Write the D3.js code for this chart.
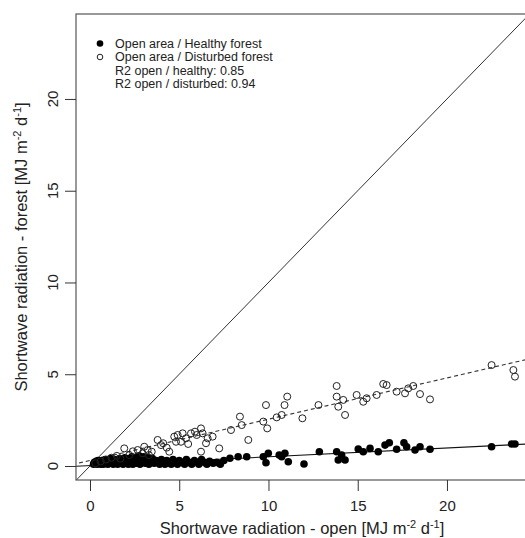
<!DOCTYPE html>
<html>
<head>
<meta charset="utf-8">
<script src="https://cdn.jsdelivr.net/npm/d3@7"></script>
<style>
  body { margin: 0; background: #fff; }
  text { font-family: "Liberation Sans", Arial, sans-serif; fill: #222; }
</style>
</head>
<body>
<script>
// open area vs healthy forest (filled dots)
var healthy = [
[0.2,0.1],[0.25,0.2],[0.3,0.15],[0.35,0.25],[0.4,0.1],[0.45,0.3],[0.5,0.15],[0.55,0.2],[0.6,0.1],[0.65,0.3],
[0.7,0.2],[0.75,0.1],[0.8,0.25],[0.85,0.35],[0.9,0.15],[0.95,0.2],[1.0,0.1],[1.05,0.3],[1.1,0.2],[1.15,0.4],
[1.2,0.15],[1.25,0.25],[1.3,0.1],[1.35,0.35],[1.4,0.2],[1.45,0.15],[1.5,0.3],[1.55,0.1],[1.6,0.25],[1.65,0.4],
[1.7,0.15],[1.75,0.2],[1.8,0.35],[1.85,0.1],[1.9,0.25],[1.95,0.45],[2.0,0.15],[2.1,0.3],[2.15,0.1],[2.2,0.4],
[2.3,0.2],[2.35,0.5],[2.4,0.1],[2.5,0.3],[2.55,0.45],[2.6,0.15],[2.7,0.25],[2.75,0.55],[2.8,0.1],[2.9,0.35],
[2.95,0.2],[3.0,0.5],[3.1,0.15],[3.2,0.3],[3.25,0.45],[3.3,0.1],[3.4,0.25],[3.5,0.4],[3.6,0.15],[3.7,0.3],
[3.8,0.2],[3.9,0.1],[4.0,0.35],[4.1,0.2],[4.2,0.1],[4.3,0.3],[4.45,0.2],[4.55,0.1],[4.65,0.35],[4.8,0.2],
[4.9,0.1],[5.0,0.3],[5.15,0.2],[5.3,0.1],[5.4,0.35],[5.55,0.2],[5.7,0.1],[5.85,0.3],[6.0,0.2],[6.1,0.1],
[6.25,0.35],[6.4,0.2],[6.55,0.1],[6.7,0.25],[6.9,0.15],[7.1,0.2],[7.3,0.1],[7.5,0.3],
[7.84,0.42],[8.3,0.5],[8.78,0.5],[9.71,0.5],[9.86,0.18],[9.99,0.69],[10.6,0.6],[10.74,0.5],[10.92,0.69],[11.11,0.23],
[11.99,0.11],[12.85,0.78],[13.82,0.78],[13.91,0.33],[14.1,0.6],[14.29,0.33],[15.03,0.93],[15.31,0.78],[15.69,0.96],[16.15,0.78],
[16.53,1.14],[16.77,1.27],[17.18,0.91],[17.59,1.27],[17.74,1.05],[18.21,0.87],[18.49,1.05],[19.05,0.91],[22.5,1.05],[23.62,1.2],
[23.81,1.2]
];

// open area vs disturbed forest (open circles)
var disturbed = [
[0.3,0.15],[0.6,0.25],[0.9,0.35],[1.2,0.45],[1.5,0.55],[1.7,0.4],[1.92,0.96],[2.2,0.6],[2.4,0.8],[2.67,0.87],
[2.95,0.69],[3.04,1.05],[3.23,0.87],[3.3,0.6],[3.46,0.78],[3.79,1.42],[3.98,1.14],[4.1,1.24],[4.3,1.0],[4.44,0.78],
[4.72,1.6],[4.82,1.32],[4.91,1.69],[5.1,1.32],[5.19,1.78],[5.38,1.51],[5.5,1.2],[5.66,1.78],[5.88,1.87],[5.98,1.69],
[6.22,2.05],[6.31,1.78],[6.5,1.24],[6.59,1.51],[6.87,1.6],[6.22,0.78],[7.24,0.96],[7.9,1.96],[8.4,2.69],[8.5,2.23],
[8.87,1.42],[9.71,2.42],[9.86,3.32],[9.93,2.05],[10.46,2.65],[10.74,2.78],[10.9,3.32],[11.05,3.78],[11.9,2.6],[12.8,3.32],
[13.82,4.36],[13.82,3.78],[13.91,3.23],[14.19,3.6],[14.29,2.78],[14.94,3.87],[15.31,3.5],[15.5,3.69],[16.06,3.87],[16.43,4.47],
[16.62,4.41],[17.18,4.05],[17.65,3.96],[17.83,4.23],[18.11,4.36],[18.49,3.92],[19.05,3.63],[22.5,5.5],[23.72,5.23],[23.81,4.87]
];

// fitted lines: [intercept, slope]
var fitHealthy = [0.02, 0.048];
var fitDisturbed = [0.3, 0.225];

var xTicks = [0, 5, 10, 15, 20];
var yTicks = [0, 5, 10, 15, 20];
var legendLabels = ["Open area / Healthy forest", "Open area / Disturbed forest",
                    "R2 open / healthy: 0.85", "R2 open / disturbed: 0.94"];

var width = 525, height = 538;
var pLeft = 76, pTop = 14, pRight = 528, pBottom = 480;

var svg = d3.select("body").append("svg").attr("width", width).attr("height", height);

var x = d3.scaleLinear().domain([-0.784, 24.54]).range([pLeft, pRight]);
var y = d3.scaleLinear().domain([-0.763, 24.63]).range([pBottom, pTop]);

svg.append("clipPath").attr("id", "plotclip")
  .append("rect").attr("x", pLeft).attr("y", pTop).attr("width", pRight - pLeft).attr("height", pBottom - pTop);

var plot = svg.append("g").attr("clip-path", "url(#plotclip)");

// 1:1 line
plot.append("line")
  .attr("x1", x(-1)).attr("y1", y(-1))
  .attr("x2", x(26)).attr("y2", y(26))
  .attr("stroke", "#333").attr("stroke-width", 1);

// regression lines
var xs = [-1, 26];
plot.append("line")
  .attr("x1", x(xs[0])).attr("y1", y(fitHealthy[0] + fitHealthy[1] * xs[0]))
  .attr("x2", x(xs[1])).attr("y2", y(fitHealthy[0] + fitHealthy[1] * xs[1]))
  .attr("stroke", "#111").attr("stroke-width", 1.1);

plot.append("line")
  .attr("x1", x(xs[0])).attr("y1", y(fitDisturbed[0] + fitDisturbed[1] * xs[0]))
  .attr("x2", x(xs[1])).attr("y2", y(fitDisturbed[0] + fitDisturbed[1] * xs[1]))
  .attr("stroke", "#333").attr("stroke-width", 1.1).attr("stroke-dasharray", "4,3");

plot.selectAll(".healthy")
  .data(healthy)
  .enter()
  .append("circle")
  .attr("cx", function(d){ return x(d[0]); })
  .attr("cy", function(d){ return y(d[1]); })
  .attr("r", 3.8)
  .attr("fill", "#000");

plot.selectAll(".disturbed")
  .data(disturbed)
  .enter()
  .append("circle")
  .attr("cx", function(d){ return x(d[0]); })
  .attr("cy", function(d){ return y(d[1]); })
  .attr("r", 3.5)
  .attr("fill", "none")
  .attr("stroke", "#222")
  .attr("stroke-width", 1);

// box (right side runs off the picture)
svg.append("rect")
  .attr("x", pLeft).attr("y", pTop).attr("width", pRight - pLeft).attr("height", pBottom - pTop)
  .attr("fill", "none").attr("stroke", "#555").attr("stroke-width", 1.2);

// axes
var xAxis = svg.append("g").attr("transform", "translate(0," + pBottom + ")")
  .call(d3.axisBottom(x).tickValues(xTicks).tickSize(11).tickPadding(9).tickSizeOuter(0));
xAxis.select(".domain").remove();
xAxis.selectAll("line").attr("stroke", "#333");
xAxis.selectAll("text").attr("font-size", 15).attr("fill", "#222")
  .style("font-family", "'Liberation Sans', Arial, sans-serif");

var yAxis = svg.append("g").attr("transform", "translate(" + pLeft + ",0)")
  .call(d3.axisLeft(y).tickValues(yTicks).tickSize(11).tickSizeOuter(0));
yAxis.select(".domain").remove();
yAxis.selectAll("line").attr("stroke", "#333");
yAxis.selectAll("text").remove();

svg.selectAll(".ylab")
  .data(yTicks)
  .enter()
  .append("text")
  .attr("transform", function(d){ return "translate(58," + y(d) + ") rotate(-90)"; })
  .attr("text-anchor", "middle")
  .attr("font-size", 15)
  .text(function(d){ return d; });

// axis titles
var xt = svg.append("text")
  .attr("x", (pLeft + pRight) / 2).attr("y", 534)
  .attr("text-anchor", "middle").attr("font-size", 16.5);
xt.append("tspan").text("Shortwave radiation - open [MJ m");
xt.append("tspan").attr("dy", -6).attr("font-size", 11).text("-2");
xt.append("tspan").attr("dy", 6).text(" d");
xt.append("tspan").attr("dy", -6).attr("font-size", 11).text("-1");
xt.append("tspan").attr("dy", 6).text("]");

var yt = svg.append("text")
  .attr("transform", "translate(27," + (pTop + pBottom) / 2 + ") rotate(-90)")
  .attr("text-anchor", "middle").attr("font-size", 16.5);
yt.append("tspan").text("Shortwave radiation - forest [MJ m");
yt.append("tspan").attr("dy", -6).attr("font-size", 11).text("-2");
yt.append("tspan").attr("dy", 6).text(" d");
yt.append("tspan").attr("dy", -6).attr("font-size", 11).text("-1");
yt.append("tspan").attr("dy", 6).text("]");

// legend
var legend = svg.append("g");
legend.append("circle").attr("cx", 100).attr("cy", 43.5).attr("r", 3.3).attr("fill", "#000");
legend.append("circle").attr("cx", 100).attr("cy", 57).attr("r", 2.8)
  .attr("fill", "none").attr("stroke", "#222").attr("stroke-width", 1);

legend.selectAll(".leg")
  .data(legendLabels)
  .enter()
  .append("text")
  .attr("x", 115)
  .attr("y", function(d, i){ return 47.5 + i * 13.5; })
  .attr("font-size", 12.5)
  .text(function(d){ return d; });
</script>
</body>
</html>
